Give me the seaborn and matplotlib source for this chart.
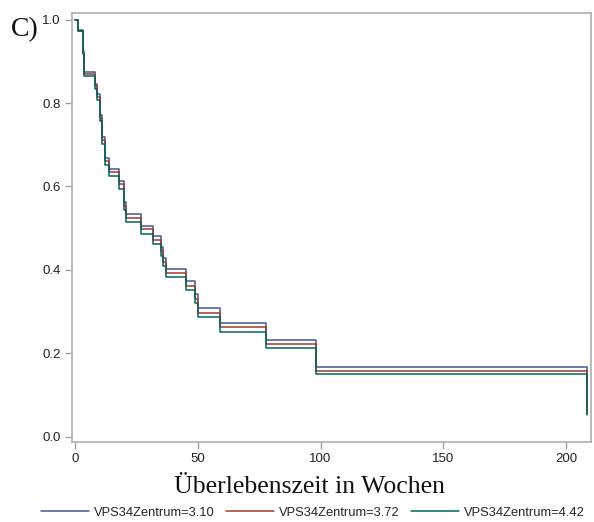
import matplotlib
matplotlib.use("Agg")
import matplotlib.pyplot as plt
import seaborn as sns
import pandas as pd
from matplotlib.lines import Line2D

times = [0, 1.5, 3.2, 3.8, 8.2, 8.9, 10.3, 11.2, 12.3, 14.1, 18.0, 20.2, 20.9,
         27.0, 32.0, 35.0, 36.0, 37.1, 45.1, 49.0, 50.0, 59.0, 78.0, 98.0, 208.5]
surv_310 = [1.0, 0.975, 0.924, 0.874, 0.846, 0.821, 0.772, 0.718, 0.668, 0.643, 0.614,
            0.562, 0.533, 0.506, 0.481, 0.455, 0.428, 0.402, 0.372, 0.341, 0.308,
            0.273, 0.231, 0.166, 0.058]
surv_372 = [1.0, 0.974, 0.921, 0.870, 0.841, 0.815, 0.765, 0.711, 0.660, 0.634, 0.605,
            0.553, 0.524, 0.497, 0.471, 0.445, 0.418, 0.392, 0.361, 0.330, 0.297,
            0.262, 0.221, 0.157, 0.055]
surv_442 = [1.0, 0.973, 0.917, 0.864, 0.834, 0.808, 0.757, 0.702, 0.651, 0.624, 0.595,
            0.543, 0.514, 0.487, 0.461, 0.434, 0.408, 0.382, 0.351, 0.320, 0.286,
            0.251, 0.212, 0.150, 0.052]
groups = ["VPS34Zentrum=3.10", "VPS34Zentrum=3.72", "VPS34Zentrum=4.42"]
colors = ["#445694", "#A23A2E", "#01665E"]
x_ticks = [0, 50, 100, 150, 200]
y_ticks = [0.0, 0.2, 0.4, 0.6, 0.8, 1.0]

rows = []
for g, s in zip(groups, [surv_310, surv_372, surv_442]):
    for t, v in zip(times, s):
        rows.append({"time": t, "surv": v, "group": g})
df = pd.DataFrame(rows)

sns.set_theme(style="white")
plt.rcParams["font.family"] = ["Liberation Sans", "DejaVu Sans"]

fig = plt.figure(figsize=(5.94, 5.22), dpi=100)
ax = fig.add_axes([72 / 594, 1 - 442 / 522, (591 - 72) / 594, (442 - 13) / 522])

sns.lineplot(data=df, x="time", y="surv", hue="group", hue_order=groups,
             palette=colors, drawstyle="steps-post", estimator=None,
             linewidth=1.1, legend=False, ax=ax)

ax.set_xlim(-1.1, 210)
ax.set_ylim(-0.013, 1.016)
ax.set_xticks(x_ticks)
ax.set_xticklabels([str(v) for v in x_ticks])
ax.set_yticks(y_ticks)
ax.set_yticklabels([f"{v:.1f}" for v in y_ticks])
ax.tick_params(axis="both", which="major", direction="out", length=5, width=1,
               color="#a0a0a0", labelsize=9.5, labelcolor="#222222", pad=3,
               bottom=True, left=True)
for sp in ax.spines.values():
    sp.set_color("#b4b4b4")
    sp.set_linewidth(1.3)
ax.set_ylabel("")
ax.set_xlabel("Überlebenszeit in Wochen", family=["Liberation Serif", "DejaVu Serif"],
              fontsize=18.5, color="#111111")
ax.xaxis.set_label_coords((309 - 72) / 519, -(487 - 442) / 429)
ax.xaxis.label.set_va("center")

fig.text(11 / 594, 1 - 30 / 522, "C)", family=["Liberation Serif", "DejaVu Serif"],
         fontsize=20, va="center", ha="left", color="#111111")

handles = [Line2D([0], [0], color=c, lw=1.1) for c in colors]
fig.legend(handles, groups, loc="center", bbox_to_anchor=(313 / 594, 1 - 513 / 522),
           ncol=3, frameon=False, fontsize=9.3, handlelength=3.7,
           columnspacing=0.9, handletextpad=0.4, borderaxespad=0)

fig.savefig("out.png", dpi=100)
